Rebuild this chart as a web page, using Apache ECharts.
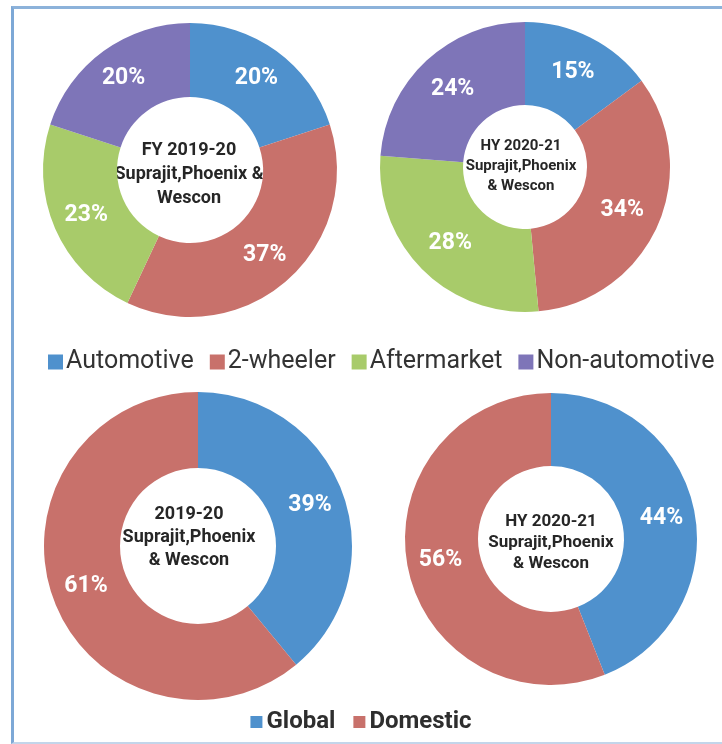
<!DOCTYPE html>
<html>
<head>
<meta charset="utf-8">
<script src="https://cdn.jsdelivr.net/npm/echarts@6/dist/echarts.min.js"></script>
<style>
  html, body { margin: 0; padding: 0; background: #fff; }
  #wrap { position: relative; width: 722px; height: 744px; overflow: hidden; }
  #chart { position: absolute; left: 0; top: 0; width: 722px; height: 744px; }
  #frame { position: absolute; left: 11px; top: 6px; width: 720px; height: 733px;
           border-left: 3px solid #7da8d6; border-top: 3px solid #8cb2da;
           border-bottom: 2px solid #c3d5ea; pointer-events: none; }
</style>
</head>
<body>
<div id="wrap"><div id="chart"></div><div id="frame"></div></div>
<script>
// ---- data ----
const segmentNames = ['Automotive', '2-wheeler', 'Aftermarket', 'Non-automotive'];
const segmentFY2019 = [20, 37, 23, 20];
const segmentHY2021 = [15, 34, 28, 24];
const geoNames = ['Global', 'Domestic'];
const geo2019 = [39, 61];
const geoHY2021 = [44, 56];
const centerTexts = [
  'FY 2019-20\nSuprajit,Phoenix &\nWescon',
  'HY 2020-21\nSuprajit,Phoenix\n& Wescon',
  '2019-20\nSuprajit,Phoenix\n& Wescon',
  'HY 2020-21\nSuprajit,Phoenix\n& Wescon'
];

// ---- style ----
const colorMap = {
  'Automotive': '#4f91cd', '2-wheeler': '#c8716b', 'Aftermarket': '#a8cb6a', 'Non-automotive': '#7e75b8',
  'Global': '#4f91cd', 'Domestic': '#c8716b'
};
const FONT = 'Roboto, "Liberation Sans", sans-serif';

function toData(names, values) {
  return names.map((n, i) => ({ name: n, value: values[i], itemStyle: { color: colorMap[n] } }));
}

function donut(names, values, center, radius) {
  return {
    type: 'pie',
    center: center,
    radius: radius,
    startAngle: 90,
    clockwise: true,
    avoidLabelOverlap: false,
    silent: true,
    animation: false,
    itemStyle: { borderWidth: 0 },
    label: {
      show: true,
      position: 'inside',
      formatter: '{c}%',
      color: '#ffffff',
      fontFamily: FONT,
      fontSize: 23,
      fontWeight: 'bold'
    },
    labelLine: { show: false },
    data: toData(names, values)
  };
}

function centerText(text, x, y, size, lh) {
  return {
    type: 'text', x: x, y: y, silent: true,
    style: {
      text: text, align: 'center', verticalAlign: 'middle',
      fontFamily: FONT, fontSize: size, fontWeight: 'bold', lineHeight: lh,
      fill: '#262626'
    }
  };
}

const chart = echarts.init(document.getElementById('chart'), null, { renderer: 'canvas' });
chart.setOption({
  backgroundColor: '#ffffff',
  animation: false,
  legend: [
    {
      data: segmentNames,
      left: 48, top: 349, padding: 0,
      itemWidth: 15, itemHeight: 15, itemGap: 16,
      icon: 'rect',
      selectedMode: false,
      textStyle: { fontFamily: FONT, fontSize: 25, color: '#333333', lineHeight: 26, padding: [0, 0, 0, -2] }
    },
    {
      data: geoNames,
      left: 'center', top: 709, padding: 0,
      itemWidth: 12, itemHeight: 12, itemGap: 18,
      icon: 'rect',
      selectedMode: false,
      textStyle: { fontFamily: FONT, fontSize: 24, fontWeight: 'bold', color: '#2e2e2e', lineHeight: 26, padding: [0, 0, 0, -1] }
    }
  ],
  series: [
    donut(segmentNames, segmentFY2019, [190, 170], [73, 147]),
    donut(segmentNames, segmentHY2021, [525, 167], [62, 145]),
    donut(geoNames, geo2019, [198, 546], [78, 154]),
    donut(geoNames, geoHY2021, [551, 539], [73, 146])
  ],
  graphic: [
    centerText(centerTexts[0], 189, 174, 18, 24),
    centerText(centerTexts[1], 521, 166, 15, 20),
    centerText(centerTexts[2], 189, 537, 18, 23),
    centerText(centerTexts[3], 551, 543, 17, 21)
  ]
});
</script>
</body>
</html>
